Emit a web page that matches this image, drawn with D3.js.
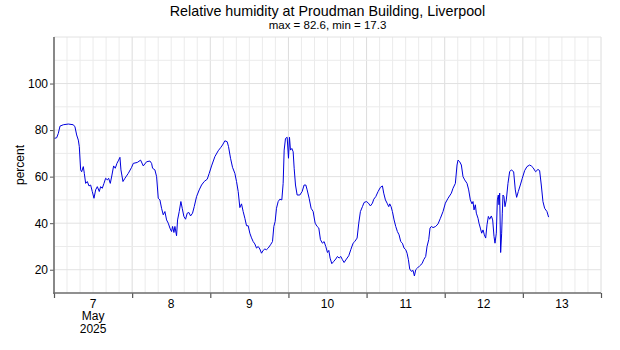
<!DOCTYPE html>
<html>
<head>
<meta charset="utf-8">
<script src="https://cdn.jsdelivr.net/npm/d3@7"></script>
<style>
  html, body { margin: 0; padding: 0; background: #fff; }
  svg { display: block; font-family: "Liberation Sans", Arial, sans-serif; }
</style>
</head>
<body>
<svg id="chart" width="620" height="350"></svg>
<script>
// Relative humidity readings: hours after 2025-05-07 00:00 and percent values
const hours = [
  0.00, 0.82, 1.33, 1.84, 2.86, 4.40, 5.93, 6.44, 6.96, 7.47, 7.77, 8.18, 8.49, 9.00, 9.31, 9.72,
  10.23, 10.74, 11.25, 11.76, 12.28, 12.79, 13.30, 13.91, 14.32, 14.83, 15.35, 15.86, 16.37, 16.78,
  17.29, 17.80, 18.31, 18.82, 19.33, 19.85, 20.26, 20.56, 21.18, 21.79, 22.81, 23.84, 24.35, 25.58,
  26.60, 27.42, 28.44, 29.46, 29.97, 30.28, 30.99, 31.51, 32.02, 32.53, 33.04, 33.55, 34.06, 34.58,
  35.09, 35.60, 36.11, 36.42, 36.83, 37.13, 37.64, 37.95, 38.46, 38.97, 39.38, 39.89, 40.41, 40.92,
  41.43, 41.94, 42.55, 43.07, 43.78, 44.60, 45.32, 46.13, 47.06, 47.67, 48.39, 49.41, 50.43, 51.15,
  51.76, 52.48, 53.19, 53.60, 54.22, 54.83, 55.55, 56.06, 56.57, 57.08, 57.59, 58.10, 58.62, 59.13,
  59.64, 60.15, 60.66, 61.17, 61.68, 62.20, 62.71, 63.22, 63.73, 64.24, 64.75, 65.27, 65.78, 66.49,
  67.11, 67.52, 67.92, 68.33, 68.85, 69.36, 69.97, 70.38, 70.69, 71.10, 71.61, 72.02, 72.32, 72.63,
  73.04, 73.45, 73.76, 74.17, 74.68, 75.50, 76.21, 76.82, 77.34, 77.75, 78.36, 78.97, 79.59, 80.20,
  80.81, 81.33, 81.84, 82.45, 82.96, 83.47, 83.99, 84.40, 84.80, 85.32, 85.93, 86.54, 87.05, 87.57,
  88.08, 88.59, 89.10, 89.82, 90.53, 91.15, 91.86, 92.37, 93.09, 93.60, 94.11, 94.73, 95.24, 95.96,
  96.57, 97.18, 97.80, 98.21, 98.82, 99.54, 100.25, 100.87, 101.27, 101.79, 102.30, 102.81, 103.12,
  103.53, 103.93, 104.45, 104.96, 105.47, 105.98, 106.49, 107.00, 107.51, 108.03, 108.44, 108.85,
  109.25, 109.77, 110.28, 110.69, 111.10, 111.61, 112.32, 113.04, 113.55, 114.16, 114.57, 115.09,
  115.49, 115.90, 116.42, 117.23, 117.95, 118.67, 119.48, 120.20, 121.02, 122.04, 122.55, 123.27,
  123.78, 124.09, 124.60, 125.11, 125.62, 126.13, 126.85, 127.36, 127.87, 128.38, 128.69, 129.00,
  129.41, 129.71, 130.23, 130.53, 130.94, 131.35, 131.76, 132.17, 132.58, 132.99, 133.40, 133.81,
  134.32, 134.73, 135.14, 135.44, 135.85, 136.16, 136.47, 136.67, 136.88, 137.18, 137.49, 137.69,
  137.90, 138.20, 138.51, 138.92, 139.43, 139.94, 140.46, 141.17, 141.68, 142.09, 142.60, 143.22,
  143.83, 144.55, 145.26, 146.08, 146.59, 147.11, 147.92, 148.64, 149.15, 149.66, 150.17, 150.69,
  151.40, 151.91
];
const humidity = [
  76.4, 76.7, 78.6, 81.7, 82.3, 82.6, 82.3, 81.4, 77.9, 75.7, 72.9, 62.9, 62.1, 64.3, 61.4, 57.1,
  57.9, 56.0, 56.4, 53.6, 50.7, 54.3, 55.7, 53.6, 55.7, 55.0, 57.1, 59.3, 58.6, 59.3,
  57.1, 60.7, 64.6, 63.6, 65.7, 67.1, 68.3, 62.9, 57.9, 59.3, 61.4, 64.0, 65.7, 66.1,
  67.1, 64.6, 66.4, 66.7, 65.7, 63.6, 62.9, 60.0, 50.7, 50.0, 46.4, 43.6, 45.0, 41.4,
  40.0, 37.9, 36.4, 38.6, 36.0, 38.6, 34.6, 41.4, 45.0, 49.3, 46.4, 42.9, 41.7, 44.3,
  44.6, 43.1, 44.3, 47.1, 51.4, 54.3, 56.4, 57.9, 58.9, 61.4, 64.6, 68.6, 71.1, 72.4,
  73.6, 75.4, 75.0, 72.9, 67.9, 64.0, 61.4, 57.9, 53.6, 46.7, 48.3, 45.0, 42.1, 38.9,
  38.9, 35.7, 33.7, 32.1, 31.1, 29.3, 30.0, 28.9, 27.1, 28.3, 28.9, 28.6, 29.3, 30.7,
  32.1, 38.6, 40.7, 46.4, 49.3, 50.3, 50.0, 57.1, 71.4, 76.4, 76.9, 67.9, 76.9, 71.4,
  72.1, 70.7, 63.6, 56.4, 52.1, 52.1, 53.6, 56.4, 56.4, 54.3, 50.7, 46.4, 45.0, 40.0,
  38.6, 37.9, 32.9, 31.4, 32.1, 30.0, 27.4, 28.3, 25.0, 22.6, 23.6, 24.6, 25.7, 25.0,
  25.7, 24.3, 23.1, 24.6, 26.0, 28.6, 31.4, 32.1, 33.6, 40.0, 45.0, 47.1, 48.9, 49.3,
  48.6, 47.4, 48.6, 50.3, 51.4, 53.6, 55.4, 56.0, 52.9, 50.0, 48.6, 47.1, 48.3,
  47.1, 45.0, 41.4, 38.6, 36.4, 35.0, 32.1, 31.4, 29.3, 28.6, 27.1, 24.3,
  20.3, 19.3, 19.7, 17.3, 20.0, 20.7, 21.7, 22.6, 24.3, 25.7, 30.0, 32.9,
  37.9, 38.6, 38.1, 38.6, 39.7, 42.1, 45.0, 48.6, 50.7, 52.9, 55.0, 57.1,
  65.0, 67.1, 66.4, 65.0, 60.0, 58.6, 57.1, 54.3, 50.0, 48.3, 49.3, 45.7,
  47.9, 44.3, 42.1, 40.0, 37.9, 35.7, 37.1, 35.0, 33.6, 39.3, 42.9, 41.7,
  43.1, 41.4, 34.3, 31.4, 35.7, 50.0, 52.1, 47.9, 52.9, 27.4, 35.7, 44.3,
  52.1, 51.4, 47.1, 50.0, 57.1, 62.1, 62.9, 62.1, 54.3, 51.1, 53.6, 56.4,
  59.3, 62.6, 64.3, 65.0, 64.6, 63.9, 62.1, 63.1, 62.6, 56.4, 49.3, 46.4,
  45.0, 42.6
];
const yTicks = [20, 40, 60, 80, 100];
const dayLabels = ["7", "8", "9", "10", "11", "12", "13"];
const monthLabel = "May";
const yearLabel = "2025";
const titleText = "Relative humidity at Proudman Building, Liverpool";
const yLabel = "percent";

const start = new Date(2025, 4, 7);
const end = new Date(2025, 4, 14);
const points = hours.map((h, i) => ({ t: new Date(start.getTime() + h * 3600e3), v: humidity[i] }));

const svg = d3.select("#chart");
const m = { left: 54, right: 601, top: 37, bottom: 293 };

const x = d3.scaleTime().domain([start, end]).range([m.left, m.right]);
const y = d3.scaleLinear().domain([10, 120]).range([m.bottom, m.top]);

// grid: every 4 hours vertically, every 10 % horizontally
const grid = svg.append("g");
const fourHours = d3.timeHour.every(4).range(start, new Date(end.getTime() + 1));
grid.selectAll("line.v").data(fourHours).join("line")
  .attr("x1", d => x(d)).attr("x2", d => x(d))
  .attr("y1", m.top).attr("y2", m.bottom)
  .attr("stroke", d => d.getHours() === 0 ? "#dcdcdc" : "#ebebeb")
  .attr("stroke-width", 1);
grid.selectAll("line.h").data(d3.range(10, 121, 10)).join("line")
  .attr("x1", m.left).attr("x2", m.right)
  .attr("y1", d => y(d)).attr("y2", d => y(d))
  .attr("stroke", d => d % 20 === 0 ? "#e2e2e2" : "#ebebeb")
  .attr("stroke-width", 1);

// humidity trace
const line = d3.line().x(d => x(d.t)).y(d => y(d.v));
svg.append("path").datum(points)
  .attr("d", line)
  .attr("fill", "none")
  .attr("stroke", "#0000dd")
  .attr("stroke-width", 1)
  .attr("stroke-linejoin", "round");

// y axis
const yAxis = svg.append("g").attr("transform", `translate(${m.left},0)`)
  .call(d3.axisLeft(y).tickValues(yTicks).tickSize(4).tickPadding(2).tickSizeOuter(0));
yAxis.select(".domain").remove();
yAxis.selectAll(".tick line").attr("stroke", "#555");
yAxis.selectAll(".tick text").attr("font-size", 12).attr("font-family", "Liberation Sans, Arial, sans-serif").attr("fill", "#000");
svg.append("line").attr("x1", m.left).attr("x2", m.left).attr("y1", m.top).attr("y2", m.bottom + 1)
  .attr("stroke", "#6e6e6e").attr("stroke-width", 1.6);

// x axis: day boundaries as ticks, labels at midday
const dayStarts = d3.timeDay.range(start, new Date(end.getTime() + 1));
const xAxis = svg.append("g").attr("transform", `translate(0,${m.bottom})`)
  .call(d3.axisBottom(x).tickValues(dayStarts).tickSize(5).tickFormat(""));
xAxis.select(".domain").remove();
xAxis.selectAll(".tick line").attr("stroke", "#555").attr("stroke-width", 1.2);
svg.append("line").attr("x1", m.left - 0.8).attr("x2", m.right).attr("y1", m.bottom).attr("y2", m.bottom)
  .attr("stroke", "#6e6e6e").attr("stroke-width", 1.6);

const noons = dayStarts.slice(0, dayLabels.length).map(d => d3.timeHour.offset(d, 12));
const lbl = svg.append("g").attr("font-size", 12).attr("text-anchor", "middle").attr("fill", "#000");
lbl.selectAll("text.day").data(noons).join("text")
  .attr("x", d => x(d)).attr("y", 307.5)
  .text((d, i) => dayLabels[i]);
lbl.append("text").attr("x", x(noons[0])).attr("y", 320).text(monthLabel);
lbl.append("text").attr("x", x(noons[0])).attr("y", 332.5).text(yearLabel);

// y label
svg.append("text")
  .attr("transform", `translate(24,${(m.top + m.bottom) / 2}) rotate(-90)`)
  .attr("text-anchor", "middle").attr("font-size", 12).attr("fill", "#000")
  .text(yLabel);

// titles
const vMax = d3.max(humidity), vMin = d3.min(humidity);
const cx = (m.left + m.right) / 2;
svg.append("text").attr("x", cx).attr("y", 16).attr("text-anchor", "middle")
  .attr("font-size", 14.3).attr("fill", "#000").text(titleText);
svg.append("text").attr("x", cx).attr("y", 29).attr("text-anchor", "middle")
  .attr("font-size", 11.5).attr("fill", "#000")
  .text(`max = ${vMax.toFixed(1)}, min = ${vMin.toFixed(1)}`);
</script>
</body>
</html>
